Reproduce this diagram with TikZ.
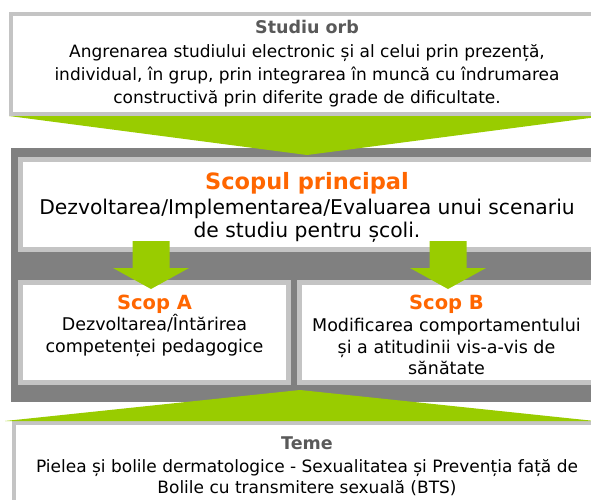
\documentclass[tikz,border=0pt]{standalone}
\usepackage{fontspec}
\setmainfont{DejaVu Sans}
\usetikzlibrary{positioning,calc}
\definecolor{leafgreen}{HTML}{99CC00}
\definecolor{panelgray}{HTML}{808080}
\definecolor{framegray}{HTML}{C4C4C4}
\definecolor{titlegray}{HTML}{595959}
\definecolor{scoporange}{HTML}{FF6600}
\tikzset{frame/.style = {rectangle, draw=framegray, fill=white, inner sep=0pt}}
\tikzset{greyhead/.style = {inner sep=0pt, text=titlegray,
    font=\fontsize{17.5}{20}\selectfont\bfseries}}
\tikzset{bighead/.style = {inner sep=0pt, text=scoporange,
    font=\fontsize{22.5}{26}\selectfont\bfseries}}
\tikzset{scophead/.style = {inner sep=0pt, text=scoporange,
    font=\fontsize{19.5}{22}\selectfont\bfseries}}
\tikzset{smalltext/.style = {inner sep=0pt, align=center,
    font=\fontsize{17}{23}\selectfont}}
\tikzset{maintext/.style = {inner sep=0pt, align=center,
    font=\fontsize{20.3}{22.5}\selectfont}}
\tikzset{scoptext/.style = {inner sep=0pt, align=center,
    font=\fontsize{17.5}{21.5}\selectfont}}
\tikzset{blockdown/.pic = {\fill[leafgreen] (-18.5,-48) -- (18.5,-48) -- (18.5,-21)
    -- (38,-21) -- (0,0) -- (-38,-21) -- (-18.5,-21) -- cycle;}}

\begin{document}
\begin{tikzpicture}[x=1pt, y=-1pt]
  \clip (0,0) rectangle (591,499);
  % dark panel behind the goals
  \fill[panelgray] (11,148) rectangle (603,402);
  % Place boxes
  \node[frame, line width=4pt, minimum width=592pt, minimum height=100pt] (orb) at (307,64) {};
  \node[frame, line width=5pt, minimum width=573pt, minimum height=90pt] (main) at (307,204.5) {};
  \node[frame, line width=5pt, minimum width=268pt, minimum height=100pt] (scopa) at (154.5,332.5) {};
  \node[frame, line width=5pt, minimum width=294pt, minimum height=100pt] (scopb) at (446.5,332.5) {};
  \node[frame, line width=4pt, minimum width=586pt, minimum height=95pt] (teme) at (307,470.5) {};
  % Green wedges and arrows
  \fill[leafgreen] (orb.south west) -- (orb.south east) -- ([yshift=2pt]main.north) -- cycle;
  \fill[leafgreen] ([xshift=-7pt]teme.north west) -- ([xshift=-7pt]teme.north east)
    -- ($(scopa.south east)!.5!(scopb.south west)+(6,5)$) -- cycle;
  \pic at ([xshift=-3.5pt,yshift=-9pt]scopa.north) {blockdown};
  \pic at ([xshift=1.5pt,yshift=-9pt]scopb.north) {blockdown};
  % Texts
  \node[greyhead] (orbtitle) at ([yshift=-15pt]orb.north) {Studiu orb};
  \node[smalltext] (orbtext) at ([yshift=-64pt]orb.north)
    {Angrenarea studiului electronic și al celui prin prezență,\\
     individual, în grup, prin integrarea în muncă cu îndrumarea\\
     constructivă prin diferite grade de dificultate.};
  \node[bighead] (maintitle) at ([yshift=-26pt]main.north) {Scopul principal};
  \node[maintext] (maintext) at ([yshift=-63.5pt]main.north)
    {Dezvoltarea/Implementarea/Evaluarea unui scenariu\\
     de studiu pentru școli.};
  \node[scophead] (scopatitle) at ([yshift=-24pt]scopa.north) {Scop A};
  \node[scoptext] (scopatext) at ([yshift=-55.5pt]scopa.north)
    {Dezvoltarea/Întărirea\\ competenței pedagogice};
  \node[scophead] (scopbtitle) at ([yshift=-24pt]scopb.north) {Scop B};
  \node[scoptext] (scopbtext) at ([yshift=-66.5pt]scopb.north)
    {Modificarea comportamentului\\ și a atitudinii vis-a-vis de\\ sănătate};
  \node[greyhead] (temetitle) at ([yshift=-22pt]teme.north) {Teme};
  \node[smalltext, font=\fontsize{17}{21.5}\selectfont] (temetext) at ([yshift=-56.5pt]teme.north)
    {Pielea și bolile dermatologice - Sexualitatea și Prevenția față de\\
     Bolile cu transmitere sexuală (BTS)};
\end{tikzpicture}
\end{document}
